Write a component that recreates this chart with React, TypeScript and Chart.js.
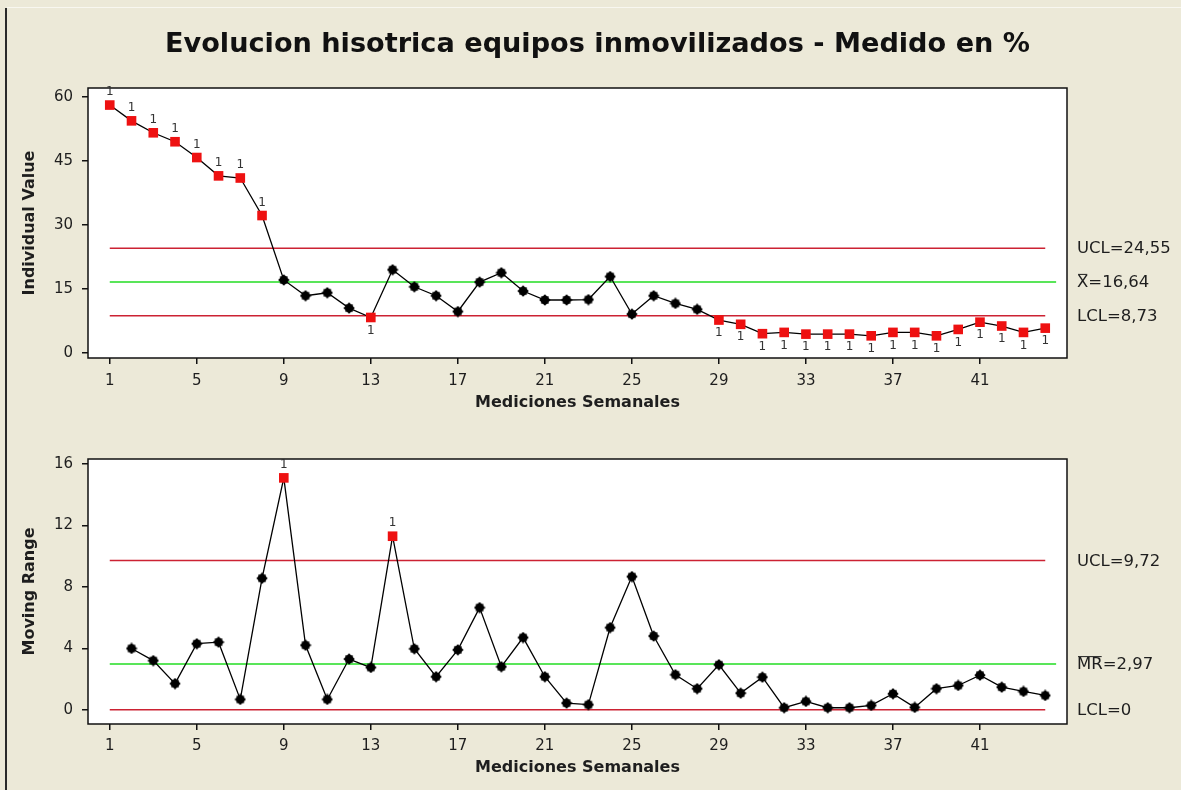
import { useEffect, useRef } from "react";
import { Chart, registerables } from "chart.js";
Chart.register(...registerables);

// ---------- data ----------
const weeks = [1, 2, 3, 4, 5, 6, 7, 8, 9, 10, 11, 12, 13, 14, 15, 16, 17, 18, 19, 20, 21, 22, 23, 24, 25, 26, 27, 28, 29, 30, 31, 32, 33, 34, 35, 36, 37, 38, 39, 40, 41, 42, 43, 44];
const individualValues = [58.1, 54.4, 51.6, 49.5, 45.8, 41.5, 41.0, 32.2, 17.1, 13.4, 14.1, 10.5, 8.3, 19.5, 15.5, 13.4, 9.7, 16.6, 18.8, 14.5, 12.4, 12.4, 12.5, 17.9, 9.1, 13.4, 11.6, 10.2, 7.7, 6.7, 4.5, 4.8, 4.4, 4.4, 4.4, 4.0, 4.8, 4.8, 4.0, 5.5, 7.2, 6.3, 4.8, 5.8];
const movingRanges = [null, 3.99, 3.2, 1.7, 4.3, 4.4, 0.67, 8.56, 15.1, 4.2, 0.67, 3.3, 2.75, 11.3, 3.97, 2.15, 3.9, 6.65, 2.8, 4.7, 2.15, 0.43, 0.33, 5.35, 8.67, 4.8, 2.28, 1.37, 2.93, 1.08, 2.12, 0.13, 0.54, 0.13, 0.13, 0.28, 1.04, 0.15, 1.37, 1.58, 2.25, 1.47, 1.19, 0.93];

const individualFlagsAbove = [1, 2, 3, 4, 5, 6, 7, 8];
const individualFlagsBelow = [13, 29, 30, 31, 32, 33, 34, 35, 36, 37, 38, 39, 40, 41, 42, 43, 44];
const rangeFlagsAbove = [9, 14];
const rangeFlagsBelow: number[] = [];

const individualLimits = { ucl: 24.55, center: 16.64, lcl: 8.73 };
const rangeLimits = { ucl: 9.72, center: 2.97, lcl: 0 };

const individualLabels = [
  { pre: "UCL=24,55", bar: "", value: 24.55 },
  { pre: "", bar: "X", post: "=16,64", value: 16.64 },
  { pre: "LCL=8,73", bar: "", value: 8.73 },
];
const rangeLabels = [
  { pre: "UCL=9,72", bar: "", value: 9.72 },
  { pre: "", bar: "MR", post: "=2,97", value: 2.97 },
  { pre: "LCL=0", bar: "", value: 0 },
];

const xTicks = [1, 5, 9, 13, 17, 21, 25, 29, 33, 37, 41];
const individualTicks = [0, 15, 30, 45, 60];
const rangeTicks = [0, 4, 8, 12, 16];

const TITLE = "Evolucion hisotrica equipos inmovilizados - Medido en %";
const FONT = "'DejaVu Sans', Verdana, sans-serif";
const TEXT = "#1e1e1e";
const RED_LINE = "#cc2233";
const GREEN_LINE = "#22dd22";
const RED_MARK = "#ee1111";

function makeMarker() {
  const c = document.createElement("canvas");
  c.width = 12;
  c.height = 12;
  const g = c.getContext("2d")!;
  g.fillStyle = "#000";
  g.beginPath();
  g.moveTo(6, 0.3);
  g.lineTo(11.7, 6);
  g.lineTo(6, 11.7);
  g.lineTo(0.3, 6);
  g.closePath();
  g.fill();
  g.fillRect(2.3, 2.3, 7.4, 7.4);
  return c;
}

type Opts = {
  values: (number | null)[];
  flagsAbove: number[];
  flagsBelow: number[];
  limits: { ucl: number; center: number; lcl: number };
  labels: { pre: string; bar: string; post?: string; value: number }[];
  yMin: number;
  yMax: number;
  yTicks: number[];
  yTitle: string;
  padTop: number;
  xHeight: number;
  tickPad: number;
  titlePadBottom: number;
  drawTitle: boolean;
};

function buildConfig(o: Opts, marker: HTMLCanvasElement): any {
  const pts = weeks
    .map((w, i) => ({ x: w, y: o.values[i] }))
    .filter((p) => p.y !== null) as { x: number; y: number }[];
  const flagged = (x: number) => o.flagsAbove.includes(x) || o.flagsBelow.includes(x);

  const limitLine = (y: number, color: string, x2: number) => ({
    data: [
      { x: 1, y },
      { x: x2, y },
    ],
    borderColor: color,
    borderWidth: 1.5,
    pointRadius: 0,
    order: 5,
  });

  const plugin = {
    id: "spc",
    beforeDraw(chart: any) {
      const { ctx, chartArea: a } = chart;
      ctx.save();
      ctx.fillStyle = "#ffffff";
      ctx.fillRect(a.left, a.top, a.right - a.left, a.bottom - a.top);
      ctx.restore();
    },
    afterDatasetsDraw(chart: any) {
      const { ctx, chartArea: a, scales } = chart;
      ctx.save();
      ctx.strokeStyle = "#111";
      ctx.lineWidth = 1.5;
      ctx.strokeRect(a.left, a.top, a.right - a.left, a.bottom - a.top);
      // flag labels
      ctx.font = `12px ${FONT}`;
      ctx.fillStyle = "#333";
      ctx.textAlign = "center";
      ctx.textBaseline = "middle";
      const meta = chart.getDatasetMeta(0);
      meta.data.forEach((el: any, i: number) => {
        const x = pts[i].x;
        if (o.flagsAbove.includes(x)) ctx.fillText("1", el.x, el.y - 13);
        if (o.flagsBelow.includes(x)) ctx.fillText("1", el.x, el.y + 13);
      });
      // right labels
      ctx.font = `16.5px ${FONT}`;
      ctx.fillStyle = TEXT;
      ctx.textAlign = "left";
      const lx = a.right + 10;
      o.labels.forEach((l) => {
        const y = scales.y.getPixelForValue(l.value) + 1;
        if (l.bar) {
          const bw = ctx.measureText(l.bar).width;
          ctx.fillText(l.bar + (l.post || ""), lx, y);
          ctx.strokeStyle = TEXT;
          ctx.lineWidth = 1;
          ctx.beginPath();
          ctx.moveTo(lx + 1, y - 8.5);
          ctx.lineTo(lx + bw - 1, y - 8.5);
          ctx.stroke();
        } else {
          ctx.fillText(l.pre, lx, y);
        }
      });
      if (o.drawTitle) {
        ctx.font = `bold 26px ${FONT}`;
        ctx.fillStyle = "#111";
        ctx.textAlign = "center";
        const w = ctx.measureText(TITLE).width;
        const target = 865;
        ctx.translate(597.5, 45);
        ctx.scale(target / w, 1);
        ctx.fillText(TITLE, 0, 0);
      }
      ctx.restore();
    },
  };

  return {
    type: "line",
    data: {
      datasets: [
        {
          data: pts,
          borderColor: "#000",
          borderWidth: 1.3,
          order: 0,
          pointStyle: (c: any) => (c.raw && flagged(c.raw.x) ? "rect" : marker),
          pointRadius: (c: any) => (c.raw && flagged(c.raw.x) ? 6.8 : 5),
          pointBackgroundColor: (c: any) => (c.raw && flagged(c.raw.x) ? RED_MARK : "#000"),
          pointBorderWidth: 0,
          pointBorderColor: "rgba(0,0,0,0)",
          clip: false,
        },
        limitLine(o.limits.ucl, RED_LINE, 44),
        limitLine(o.limits.center, GREEN_LINE, 44.5),
        limitLine(o.limits.lcl, RED_LINE, 44),
      ],
    },
    options: {
      responsive: false,
      animation: false,
      devicePixelRatio: 1,
      layout: { padding: { top: o.padTop, right: 114, left: 0, bottom: 0 } },
      plugins: { legend: { display: false }, tooltip: { enabled: false } },
      scales: {
        x: {
          type: "linear",
          min: 0,
          max: 45,
          afterBuildTicks: (s: any) => {
            s.ticks = xTicks.map((v) => ({ value: v }));
          },
          afterFit: (s: any) => {
            s.height = o.xHeight;
          },
          grid: { drawOnChartArea: false, drawTicks: true, tickLength: 6, color: "#111", lineWidth: 1.5 },
          border: { display: false },
          ticks: { font: { family: FONT, size: 15 }, color: TEXT, padding: o.tickPad, maxRotation: 0, autoSkip: false },
          title: {
            display: true,
            text: "Mediciones Semanales",
            font: { family: FONT, size: 16, weight: "bold" },
            color: TEXT,
            padding: { top: 0, bottom: o.titlePadBottom },
          },
        },
        y: {
          min: o.yMin,
          max: o.yMax,
          afterBuildTicks: (s: any) => {
            s.ticks = o.yTicks.map((v) => ({ value: v }));
          },
          afterFit: (s: any) => {
            s.width = 88;
          },
          grid: { drawOnChartArea: false, drawTicks: true, tickLength: 6, color: "#111", lineWidth: 1.5 },
          border: { display: false },
          ticks: { font: { family: FONT, size: 15 }, color: TEXT, padding: 9 },
          title: {
            display: true,
            text: o.yTitle,
            font: { family: FONT, size: 16, weight: "bold" },
            color: TEXT,
            padding: { top: 20.4, bottom: 0 },
          },
        },
      },
    },
    plugins: [plugin],
  };
}

export default function App() {
  const topRef = useRef<HTMLCanvasElement>(null);
  const botRef = useRef<HTMLCanvasElement>(null);
  useEffect(() => {
    const marker = makeMarker();
    const c1 = new Chart(
      topRef.current!,
      buildConfig(
        {
          values: individualValues,
          flagsAbove: individualFlagsAbove,
          flagsBelow: individualFlagsBelow,
          limits: individualLimits,
          labels: individualLabels,
          yMin: -1.2,
          yMax: 62.1,
          yTicks: individualTicks,
          yTitle: "Individual Value",
          padTop: 88,
          xHeight: 72,
          tickPad: 8,
          titlePadBottom: 17.4,
          drawTitle: true,
        },
        marker
      )
    );
    const c2 = new Chart(
      botRef.current!,
      buildConfig(
        {
          values: movingRanges,
          flagsAbove: rangeFlagsAbove,
          flagsBelow: rangeFlagsBelow,
          limits: rangeLimits,
          labels: rangeLabels,
          yMin: -0.93,
          yMax: 16.33,
          yTicks: rangeTicks,
          yTitle: "Moving Range",
          padTop: 29,
          xHeight: 66,
          tickPad: 7,
          titlePadBottom: 12.4,
          drawTitle: false,
        },
        marker
      )
    );
    return () => {
      c1.destroy();
      c2.destroy();
    };
  }, []);
  return (
    <div style={{ position: "absolute", left: 0, top: 0, width: 1181, height: 790, background: "#ECE9D8", overflow: "hidden" }}>
      <div style={{ position: "absolute", left: 5, top: 8, width: 2, height: 782, background: "#2a2a2a" }} />
      <div style={{ position: "absolute", left: 7, top: 7, width: 1174, height: 1, background: "#f8f7f0" }} />
      <canvas ref={topRef} width={1181} height={430} style={{ position: "absolute", left: 0, top: 0, width: 1181, height: 430 }} />
      <canvas ref={botRef} width={1181} height={360} style={{ position: "absolute", left: 0, top: 430, width: 1181, height: 360 }} />
    </div>
  );
}
